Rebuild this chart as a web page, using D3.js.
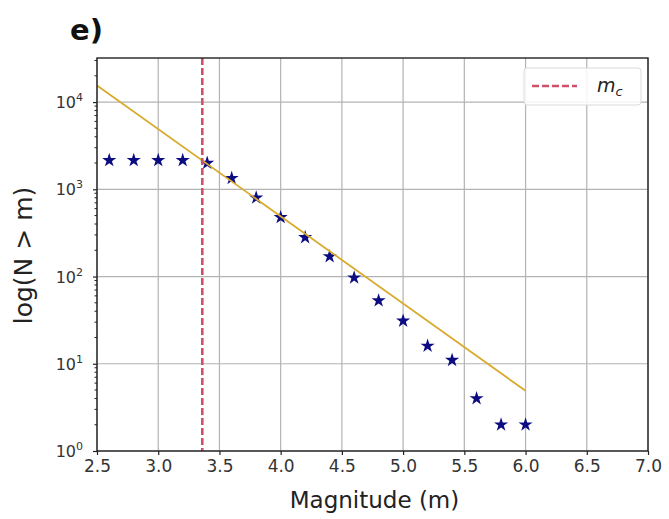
<!DOCTYPE html>
<html><head><meta charset="utf-8">
<script src="https://cdn.jsdelivr.net/npm/d3@7"></script>
<style>body{margin:0;background:#fff}svg{display:block}</style>
</head><body>
<script>
// ---- data ----
const magnitudes = [2.6, 2.8, 3.0, 3.2, 3.4, 3.6, 3.8, 4.0, 4.2, 4.4, 4.6, 4.8, 5.0, 5.2, 5.4, 5.6, 5.8, 6.0];
const cumulativeCounts = [2150, 2150, 2150, 2150, 2000, 1340, 800, 477, 281, 170, 97, 53, 31, 16, 11, 4, 2, 2];
const fitMagnitudes = [2.5, 6.0];
const fitCounts = [15500, 4.9];
const completenessMagnitude = [3.36];
const xTicks = [2.5, 3.0, 3.5, 4.0, 4.5, 5.0, 5.5, 6.0, 6.5, 7.0];
const yTickExponents = [0, 1, 2, 3, 4];
const xDomain = [2.5, 7.0];
const yDomain = [1, 32000];
const panelLabel = "e)";
const xLabel = "Magnitude (m)";
const yLabel = "log(N > m)";

// ---- layout ----
const W = 669, H = 519;
const L = 97, R = 648, T = 58, B = 451;

const svg = d3.select("body").append("svg").attr("width", W).attr("height", H)
  .style("font-family", "'DejaVu Sans', sans-serif");

const x = d3.scaleLinear().domain(xDomain).range([L, R]);
const y = d3.scaleLog().domain(yDomain).range([B, T]);

// grid
const grid = svg.append("g").attr("stroke", "#b3b3b3").attr("stroke-width", 1.2);
grid.selectAll("line.gx").data(xTicks).join("line")
  .attr("x1", d => x(d)).attr("x2", d => x(d)).attr("y1", T).attr("y2", B);
grid.selectAll("line.gy").data(yTickExponents).join("line")
  .attr("x1", L).attr("x2", R).attr("y1", d => y(Math.pow(10, d))).attr("y2", d => y(Math.pow(10, d)));

// stars
svg.append("g").selectAll("path").data(magnitudes).join("path")
  .attr("d", d3.symbol(d3.symbolStar, 62))
  .attr("transform", (d, i) => `translate(${x(d)},${y(cumulativeCounts[i])})`)
  .attr("fill", "#0c0c82");

// fit line
svg.append("path")
  .datum(fitMagnitudes.map((m, i) => [m, fitCounts[i]]))
  .attr("d", d3.line().x(d => x(d[0])).y(d => y(d[1])))
  .attr("fill", "none").attr("stroke", "#d8aa2e").attr("stroke-width", 1.8);

// Mc line
svg.append("g").selectAll("line").data(completenessMagnitude).join("line")
  .attr("x1", d => x(d)).attr("x2", d => x(d)).attr("y1", T).attr("y2", B)
  .attr("stroke", "#cf5069").attr("stroke-width", 2.6).attr("stroke-dasharray", "7,3");

// frame
svg.append("rect").attr("x", L).attr("y", T).attr("width", R - L).attr("height", B - T)
  .attr("fill", "none").attr("stroke", "#222").attr("stroke-width", 1.4);

// x axis
const xAxis = d3.axisBottom(x).tickValues(xTicks).tickFormat(d3.format(".1f")).tickSize(4).tickPadding(5);
const gx = svg.append("g").attr("transform", `translate(0,${B})`).call(xAxis);
gx.select(".domain").remove();
gx.selectAll("line").attr("stroke", "#222").attr("stroke-width", 1.2);
gx.selectAll("text").attr("font-size", 17).attr("fill", "#333").attr("font-family", "'DejaVu Sans', sans-serif");

// y axis: major ticks
const yMajor = yTickExponents.map(e => Math.pow(10, e));
const yAxis = d3.axisLeft(y).tickValues(yMajor).tickFormat("").tickSize(4);
const gy = svg.append("g").attr("transform", `translate(${L},0)`).call(yAxis);
gy.select(".domain").remove();
gy.selectAll("line").attr("stroke", "#222").attr("stroke-width", 1.2);
// minor ticks
const minor = [];
for (let e = 0; e <= 4; e++) for (let k = 2; k <= 9; k++) { const v = k * Math.pow(10, e); if (v <= yDomain[1]) minor.push(v); }
svg.append("g").selectAll("line").data(minor).join("line")
  .attr("x1", L - 2.5).attr("x2", L).attr("y1", d => y(d)).attr("y2", d => y(d))
  .attr("stroke", "#222").attr("stroke-width", 1);
// y tick labels with superscripts
const yl = svg.append("g").selectAll("text").data(yTickExponents).join("text")
  .attr("x", L - 14).attr("y", d => y(Math.pow(10, d)) + 6)
  .attr("text-anchor", "end").attr("font-size", 16).attr("fill", "#333");
yl.append("tspan").text("10");
yl.append("tspan").attr("font-size", 11).attr("dy", -7).text(d => d);

// axis labels
svg.append("text").attr("x", (L + R) / 2 + 2).attr("y", 508).attr("text-anchor", "middle")
  .attr("font-size", 23).attr("fill", "#222").text(xLabel);
svg.append("text").attr("transform", `translate(32,${(T + B) / 2 + 1}) rotate(-90)`)
  .attr("text-anchor", "middle").attr("font-size", 25).attr("fill", "#222").text(yLabel);

// panel label
svg.append("text").attr("x", 70).attr("y", 40).attr("font-size", 29).attr("font-weight", "bold")
  .attr("fill", "#111").text(panelLabel);

// legend
const lg = svg.append("g");
lg.append("rect").attr("x", 524).attr("y", 68).attr("width", 117).attr("height", 37).attr("rx", 3)
  .attr("fill", "#fff").attr("fill-opacity", 0.85).attr("stroke", "#dadada").attr("stroke-width", 1);
lg.append("line").attr("x1", 532).attr("x2", 577).attr("y1", 86).attr("y2", 86)
  .attr("stroke", "#cf5069").attr("stroke-width", 2.6).attr("stroke-dasharray", "7,3");
const lt = lg.append("text").attr("x", 597).attr("y", 92).attr("font-size", 19).attr("font-style", "italic").attr("fill", "#222");
lt.append("tspan").text("m");
lt.append("tspan").attr("font-size", 13).attr("dy", 4).text("c");
</script>
</body></html>
